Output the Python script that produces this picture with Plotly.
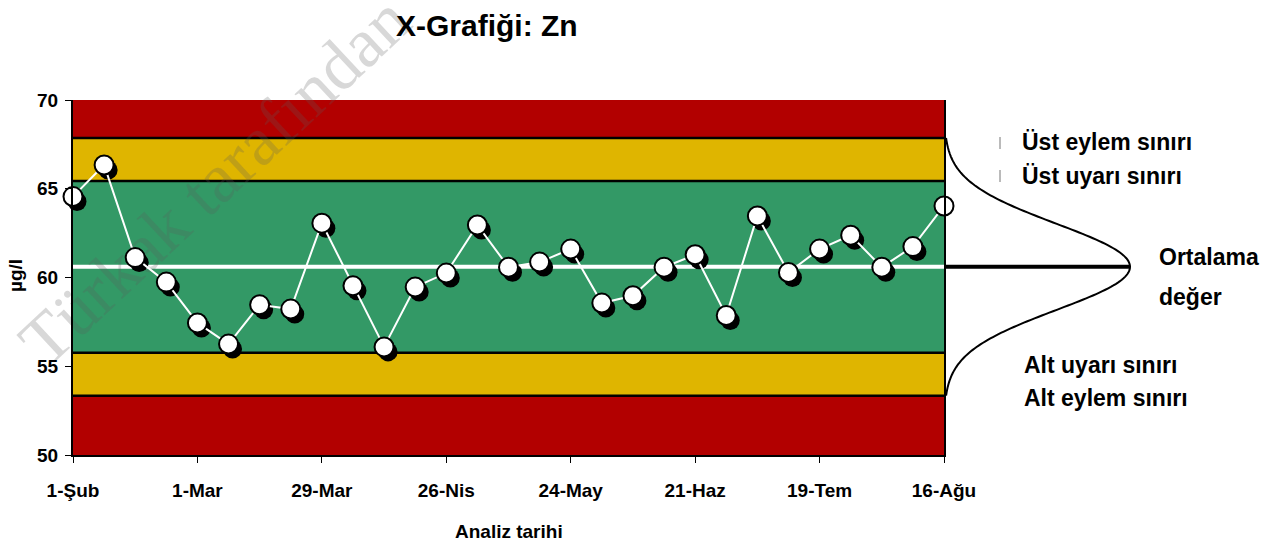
import datetime as dt
import numpy as np
import plotly.graph_objects as go

# Weekly Zn control sample results (µg/l)
sample_dates = [
    "2007-02-01", "2007-02-08", "2007-02-15", "2007-02-22", "2007-03-01",
    "2007-03-08", "2007-03-15", "2007-03-22", "2007-03-29", "2007-04-05",
    "2007-04-12", "2007-04-19", "2007-04-26", "2007-05-03", "2007-05-10",
    "2007-05-17", "2007-05-24", "2007-05-31", "2007-06-07", "2007-06-14",
    "2007-06-21", "2007-06-28", "2007-07-05", "2007-07-12", "2007-07-19",
    "2007-07-26", "2007-08-02", "2007-08-09", "2007-08-16",
]
zn_values = [
    64.56, 66.34, 61.12, 59.74, 57.44, 56.25, 58.46, 58.22, 63.06, 59.53,
    56.09, 59.46, 60.25, 62.96, 60.58, 60.87, 61.60, 58.56, 58.97, 60.58,
    61.28, 57.86, 63.47, 60.28, 61.60, 62.38, 60.58, 61.74, 64.03,
]

tick_dates = ["2007-02-01", "2007-03-01", "2007-03-29", "2007-04-26",
              "2007-05-24", "2007-06-21", "2007-07-19", "2007-08-16"]
tick_labels = ["1-Şub", "1-Mar", "29-Mar", "26-Nis", "24-May", "21-Haz",
               "19-Tem", "16-Ağu"]
y_ticks = [50, 55, 60, 65, 70]

mean_value = 60.6
std_dev = 2.42

uwl, lwl = mean_value + 2 * std_dev, mean_value - 2 * std_dev
ual, lal = mean_value + 3 * std_dev, mean_value - 3 * std_dev

# ---- layout geometry (pixels) ----
W, H = 1285, 542
ML, MR, MT, MB = 73, 341, 100, 87
PW, PH = W - ML - MR, H - MT - MB
Y_MIN, Y_MAX = 50, 70

RED, YELLOW, GREEN = "#B20000", "#DFB500", "#339966"
FONT = "Liberation Sans"


def px_x(px):
    return (px - ML) / PW


def px_y(py):
    return (H - MB - py) / PH


d0 = dt.date.fromisoformat(sample_dates[0])
d1 = dt.date.fromisoformat(sample_dates[-1])
span_days = (d1 - d0).days

# marker drop shadow: shift 4 px right, 5 px down
shadow_dx = dt.timedelta(days=4 / (PW / span_days))
shadow_dy = 5 / (PH / (Y_MAX - Y_MIN))
shadow_dates = [(dt.datetime.fromisoformat(d) + shadow_dx).isoformat() for d in sample_dates]
shadow_values = [v - shadow_dy for v in zn_values]

fig = go.Figure()

fig.add_trace(go.Scatter(
    x=shadow_dates, y=shadow_values, mode="markers",
    marker=dict(size=19, color="black", line=dict(width=0)),
    cliponaxis=False, hoverinfo="skip", showlegend=False,
))
fig.add_trace(go.Scatter(
    x=sample_dates, y=zn_values, mode="lines",
    line=dict(color="white", width=2),
    cliponaxis=False, hoverinfo="skip", showlegend=False,
))
fig.add_trace(go.Scatter(
    x=sample_dates, y=zn_values, mode="markers",
    marker=dict(size=19, color="white", line=dict(color="black", width=2)),
    cliponaxis=False, showlegend=False,
))

shapes = []
# control bands
for lo, hi, col in [(Y_MIN, lal, RED), (lal, lwl, YELLOW), (lwl, uwl, GREEN),
                    (uwl, ual, YELLOW), (ual, Y_MAX, RED)]:
    shapes.append(dict(type="rect", xref="paper", yref="y", x0=0, x1=1,
                       y0=lo, y1=hi, fillcolor=col, line=dict(width=0),
                       layer="below"))
for lim in [lal, lwl, uwl, ual]:
    shapes.append(dict(type="line", xref="paper", yref="y", x0=0, x1=1,
                       y0=lim, y1=lim, line=dict(color="black", width=2.5),
                       layer="below"))
# centre line
shapes.append(dict(type="line", xref="paper", yref="y", x0=0, x1=1,
                   y0=mean_value, y1=mean_value,
                   line=dict(color="white", width=4), layer="below"))

# watermark along a diagonal guide line
shapes.append(dict(
    type="line", xref="paper", yref="paper",
    x0=px_x(50), y0=px_y(380), x1=px_x(425), y1=px_y(30),
    line=dict(width=0), layer="below",
    label=dict(text="Türkak tarafından", textposition="middle",
               yanchor="bottom",
               font=dict(family="Liberation Serif", size=70,
                         color="rgba(90,90,90,0.24)")),
))

# distribution curve beside the chart
peak_w = (1130 - 944) / PW
ys = np.linspace(lal, ual, 181)
xs = 1 + peak_w * np.exp(-0.5 * ((ys - mean_value) / std_dev) ** 2)
path = "M " + " L ".join(f"{x:.5f},{y:.4f}" for x, y in zip(xs, ys))
shapes.append(dict(type="path", xref="paper", yref="y", path=path,
                   line=dict(color="black", width=2)))
shapes.append(dict(type="line", xref="paper", yref="y", x0=1, x1=1 + peak_w,
                   y0=mean_value, y1=mean_value,
                   line=dict(color="black", width=4)))

# small markers beside the upper labels
for py in (143, 176):
    shapes.append(dict(type="line", xref="paper", yref="paper",
                       x0=px_x(1000), x1=px_x(1000),
                       y0=px_y(py - 6), y1=px_y(py + 6),
                       line=dict(color="#777777", width=1)))

annotations = [
    dict(text="<b>X-Grafiği: Zn</b>", xref="paper", yref="paper",
         x=px_x(487), y=px_y(25), xanchor="center", yanchor="middle",
         showarrow=False, font=dict(family=FONT, size=30, color="black")),
    dict(text="<b>Analiz tarihi</b>", xref="paper", yref="paper",
         x=px_x(509), y=px_y(531), xanchor="center", yanchor="middle",
         showarrow=False, font=dict(family=FONT, size=19, color="black")),
    dict(text="<b>µg/l</b>", xref="paper", yref="paper",
         x=px_x(15), y=px_y(276), xanchor="center", yanchor="middle",
         textangle=-90, showarrow=False,
         font=dict(family=FONT, size=19, color="black")),
]
side_labels = [
    ("Üst eylem sınırı", 1020, 142),
    ("Üst uyarı sınırı", 1020, 176),
    ("Ortalama", 1157, 257),
    ("değer", 1157, 297),
    ("Alt uyarı sınırı", 1022, 365),
    ("Alt eylem sınırı", 1022, 398),
]
for txt, px, py in side_labels:
    annotations.append(dict(
        text=f"<b>{txt}</b>", xref="paper", yref="paper",
        x=px_x(px), y=px_y(py), xanchor="left", yanchor="middle",
        showarrow=False, font=dict(family=FONT, size=23, color="black")))

fig.update_layout(
    width=W, height=H,
    margin=dict(l=ML, r=MR, t=MT, b=MB, pad=0),
    paper_bgcolor="white", plot_bgcolor="white",
    shapes=shapes, annotations=annotations,
    xaxis=dict(
        type="date", range=[sample_dates[0], sample_dates[-1]],
        tickvals=tick_dates, ticktext=tick_labels,
        ticks="outside", ticklen=6, tickwidth=1, tickcolor="black",
        showline=True, linecolor="black", linewidth=2,
        showgrid=False, zeroline=False, ticklabelstandoff=11,
        tickfont=dict(family=FONT, size=19, color="black", weight="bold"),
    ),
    yaxis=dict(
        range=[Y_MIN, Y_MAX], tickvals=y_ticks,
        ticks="outside", ticklen=6, tickwidth=1, tickcolor="black",
        showline=True, mirror=True, linecolor="black", linewidth=2,
        showgrid=False, zeroline=False, ticklabelstandoff=3,
        tickfont=dict(family=FONT, size=19, color="black", weight="bold"),
    ),
)

fig.write_html("out.html")
